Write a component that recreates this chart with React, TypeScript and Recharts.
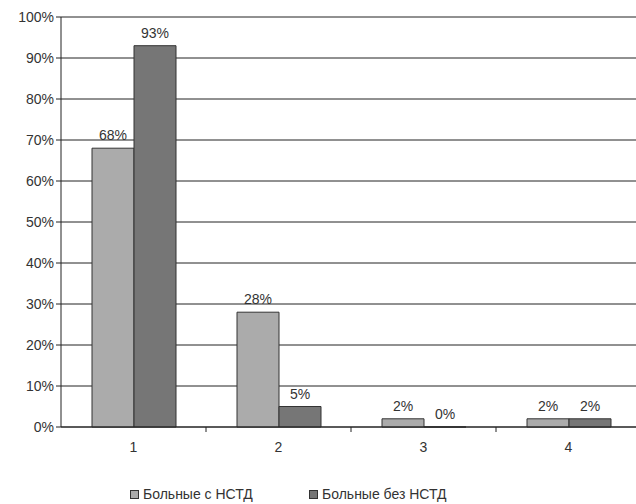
import { BarChart, Bar, XAxis, YAxis, CartesianGrid, LabelList } from "recharts";

const categories = ["1", "2", "3", "4"];
const withNstd = [68, 28, 2, 2];
const withoutNstd = [93, 5, 0, 2];
const yTicks = [0, 10, 20, 30, 40, 50, 60, 70, 80, 90, 100];

const SERIES = [
  { key: "withNstd", name: "Больные с НСТД", color: "#ababab", left: 130 },
  { key: "withoutNstd", name: "Больные без НСТД", color: "#767676", left: 309 },
];

const data = categories.map((c, i) => ({
  cat: c,
  withNstd: withNstd[i],
  withoutNstd: withoutNstd[i],
}));

const FONT = "'Liberation Sans', Arial, sans-serif";
const TEXT = "#333";

const CAT_WIDTH = 145;

// category label centred in the band, tick mark on the right band boundary
function CatTick(props: any) {
  const { x, y, payload, index } = props;
  return (
    <g>
      {index < categories.length - 1 && (
        <line x1={x + CAT_WIDTH / 2} x2={x + CAT_WIDTH / 2} y1={y - 8} y2={y - 3} stroke="#222" />
      )}
      <text x={x} y={y + 17} textAnchor="middle" fontSize={14} fontFamily={FONT} fill={TEXT}>
        {payload.value}
      </text>
    </g>
  );
}

export default function App() {
  return (
    <div style={{ position: "fixed", left: 0, top: 0, width: 636, height: 504, overflow: "hidden", background: "#fff" }}>
      <BarChart
        width={641}
        height={504}
        data={data}
        margin={{ top: 17, right: 0, left: 0, bottom: 47 }}
        barCategoryGap={31}
        barGap={0}
      >
        <CartesianGrid vertical={false} stroke="#222" strokeWidth={1} />
        <XAxis
          dataKey="cat"
          stroke="#222"
          tickLine={false}
          tick={<CatTick />}
          height={30}
          interval={0}
        />
        <YAxis
          domain={[0, 100]}
          ticks={yTicks}
          tickFormatter={(v: number) => `${v}%`}
          width={61}
          stroke="#222"
          tickSize={5}
          tick={{ fontSize: 14, fontFamily: FONT, fill: TEXT }}
          interval={0}
        />
        {SERIES.map((s) => (
          <Bar
            key={s.key}
            dataKey={s.key}
            name={s.name}
            fill={s.color}
            stroke="#333"
            strokeWidth={1}
            minPointSize={0.01}
            isAnimationActive={false}
          >
            <LabelList
              dataKey={s.key}
              position="top"
              offset={8}
              formatter={(v: any) => `${v}%`}
              style={{ fontSize: 14, fontFamily: FONT, fill: TEXT }}
            />
          </Bar>
        ))}
      </BarChart>
      {SERIES.map((s) => (
        <div
          key={s.key}
          style={{
            position: "absolute",
            top: 486,
            left: s.left,
            display: "flex",
            alignItems: "center",
            fontFamily: FONT,
            fontSize: 14,
            color: TEXT,
            lineHeight: "16px",
            whiteSpace: "nowrap",
          }}
        >
          <span style={{ display: "inline-block", width: 7, height: 7, background: s.color, border: "1px solid #333", marginRight: 4 }} />
          {s.name}
        </div>
      ))}
    </div>
  );
}
